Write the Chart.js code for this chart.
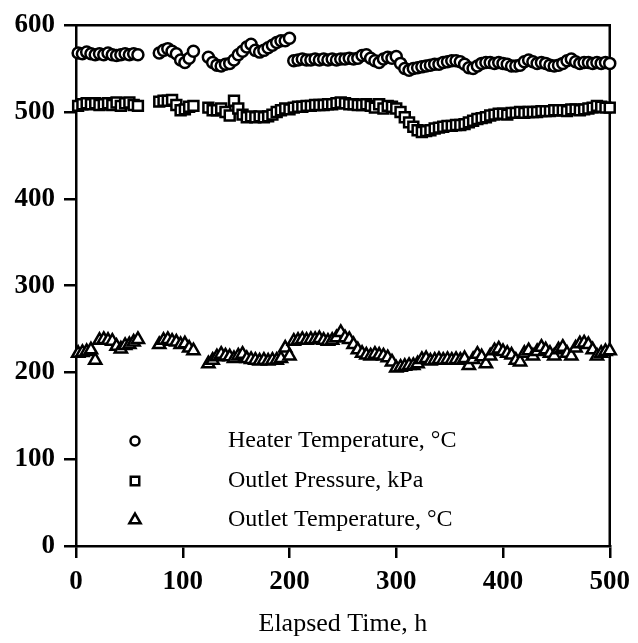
<!DOCTYPE html>
<html>
<head>
<meta charset="utf-8">
<script src="https://cdn.jsdelivr.net/npm/chart.js@4.4.1/dist/chart.umd.min.js"></script>
<style>
  html, body { margin: 0; padding: 0; background: #fff; }
  #wrap { width: 638px; height: 643px; }
</style>
</head>
<body>
<div id="wrap"><canvas id="chart" width="638" height="643"></canvas></div>
<script>
// elapsed time (h) for each logged reading
var hours = [2, 6, 10, 14, 18, 22, 26, 30, 34, 38, 42, 46, 50, 54, 58,
  78, 82, 86, 90, 94, 98, 102, 106, 110,
  124, 128, 132, 136, 140, 144, 148, 152, 156, 160, 164, 168, 172, 176, 180, 184, 188, 192, 196, 200,
  204, 208, 212, 216, 220, 224, 228, 232, 236, 240, 244, 248, 252, 256, 260, 264, 268, 272, 276, 280, 284, 288, 292, 296, 300,
  304, 308, 312, 316, 320, 324, 328, 332, 336, 340, 344, 348, 352, 356, 360, 364, 368, 372, 376, 380, 384, 388, 392, 396, 400,
  404, 408, 412, 416, 420, 424, 428, 432, 436, 440, 444, 448, 452, 456, 460, 464, 468, 472, 476, 480, 484, 488, 492, 496, 500];

var heaterTemp = [568, 567, 569, 567, 566, 567, 566, 568, 566, 565, 566, 567, 566, 567, 566,
  568, 571, 573, 570, 567, 560, 557, 562, 570,
  563, 557, 554, 553, 555, 556, 560, 566, 570, 575, 578, 571, 569, 571, 574, 577, 580, 582, 582, 585,
  559, 560, 561, 560, 560, 561, 560, 561, 560, 561, 560, 561, 561, 562, 561, 562, 565, 566, 562, 559, 557, 561, 563, 562, 564,
  556, 550, 548, 550, 551, 552, 553, 554, 555, 555, 557, 558, 559, 559, 558, 555, 551, 550, 553, 556, 557, 557, 556, 557, 556,
  555, 553, 553, 554, 558, 560, 558, 556, 557, 556, 554, 553, 554, 556, 559, 561, 558, 556, 557, 557, 556, 557, 556, 557, 556];

var outletPressure = [507, 509, 510, 509, 510, 508, 509, 510, 508, 511, 507, 510, 511, 508, 507,
  512, 513, 513, 514, 508, 502, 503, 506, 507,
  505, 502, 502, 504, 500, 496, 513, 504, 497, 494, 495, 494, 495, 494, 495, 497, 500, 502, 504, 503,
  505, 506, 506, 507, 507, 508, 508, 508, 509, 509, 510, 511, 510, 509, 509, 508, 508, 509, 507, 505, 509, 504, 507, 506, 504,
  500, 494, 488, 483, 479, 477, 478, 479, 481, 482, 483, 484, 484, 485, 485, 486, 488, 490, 492, 493, 494, 496, 497, 498, 498,
  497, 499, 499, 500, 499, 500, 500, 500, 501, 501, 501, 502, 502, 502, 501, 503, 503, 502, 503, 504, 505, 507, 506, 505, 505];

var outletTemp = [222, 223, 224, 226, 214, 237, 238, 237, 236, 230, 227, 231, 232, 235, 238,
  232, 237, 238, 236, 235, 232, 233, 228, 225,
  210, 214, 218, 221, 219, 218, 216, 219, 221, 216, 215, 214, 213, 214, 213, 214, 214, 216, 228, 219,
  236, 237, 238, 237, 238, 238, 239, 237, 236, 237, 240, 246, 240, 238, 232, 226, 222, 220, 219, 221, 220, 219, 217, 212, 205,
  206, 207, 208, 208, 210, 215, 216, 213, 214, 215, 214, 215, 214, 215, 214, 216, 208, 215, 221, 218, 210, 219, 225, 227, 224,
  222, 220, 214, 212, 222, 225, 219, 224, 229, 226, 222, 219, 226, 229, 222, 219, 228, 233, 234, 232, 226, 219, 222, 224, 225];

var seriesNames = ["Heater Temperature, \u00B0C", "Outlet Pressure, kPa", "Outlet Temperature, \u00B0C"];
var xTicks = [0, 100, 200, 300, 400, 500];
var yTicks = [0, 100, 200, 300, 400, 500, 600];

function pts(vals) {
  return hours.map(function (h, i) { return { x: h, y: vals[i] }; });
}

var serif = "'Liberation Serif', 'Times New Roman', serif";

// legend drawn inside the plot, lower left, like the original figure
const insideLegend = {
  id: "insideLegend",
  afterDraw(chart) {
    const c = chart.ctx;
    const sizes = [4.5, 6, 6.5];
    const rows = [441, 481, 520];
    c.save();
    c.fillStyle = "#fff";
    c.strokeStyle = "#000";
    c.lineWidth = 2.5;
    chart.data.datasets.forEach(function (ds, i) {
      Chart.helpers.drawPoint(c, {
        pointStyle: ds.pointStyle,
        radius: sizes[i],
        borderWidth: 2.5,
        rotation: 0
      }, 135, rows[i]);
    });
    c.fillStyle = "#000";
    c.font = "24px " + serif;
    c.textBaseline = "middle";
    c.textAlign = "left";
    chart.data.datasets.forEach(function (ds, i) {
      c.fillText(ds.label, 228, rows[i]);
    });
    c.restore();
  },
  beforeDatasetsDraw(chart) {
    // closing frame (top and right)
    const a = chart.chartArea;
    const c = chart.ctx;
    c.save();
    c.strokeStyle = "#000";
    c.lineWidth = 2.5;
    c.beginPath();
    c.moveTo(a.left, a.top);
    c.lineTo(a.right, a.top);
    c.lineTo(a.right, a.bottom);
    c.stroke();
    c.restore();
  }
};

const ctx = document.getElementById("chart");

function makeSet(label, vals, style, r) {
  return {
    label: label,
    data: pts(vals),
    pointStyle: style,
    pointRadius: r,
    pointHoverRadius: r,
    pointBorderWidth: 2.5,
    borderColor: "#000",
    backgroundColor: "#fff",
    showLine: false,
    clip: false
  };
}

const myChart = new Chart(ctx, {
  type: "scatter",
  data: {
    datasets: [
      makeSet(seriesNames[0], heaterTemp, "circle", 5.5),
      makeSet(seriesNames[1], outletPressure, "rect", 7),
      makeSet(seriesNames[2], outletTemp, "triangle", 7)
    ]
  },
  plugins: [insideLegend],
  options: {
    responsive: false,
    animation: false,
    events: [],
    layout: { padding: { left: 0, top: 15, right: 25, bottom: 0 } },
    plugins: {
      legend: { display: false },
      tooltip: { enabled: false }
    },
    scales: {
      x: {
        type: "linear",
        min: 0,
        max: 500,
        afterBuildTicks: function (s) { s.ticks = xTicks.map(function (v) { return { value: v }; }); },
        afterFit: function (s) { s.height = 97; },
        ticks: {
          color: "#000",
          padding: 8,
          maxRotation: 0,
          font: { family: serif, size: 27, weight: "bold" }
        },
        grid: { drawOnChartArea: false, drawTicks: true, tickLength: 12, color: "#000", lineWidth: 2.5 },
        border: { display: true, color: "#000", width: 2.5 },
        title: {
          display: true,
          text: "Elapsed Time, h",
          color: "#000",
          padding: { top: 0, bottom: 3 },
          font: { family: serif, size: 26 }
        }
      },
      y: {
        type: "linear",
        min: 0,
        max: 600,
        afterBuildTicks: function (s) { s.ticks = yTicks.map(function (v) { return { value: v }; }); },
        afterFit: function (s) { s.width = 76; },
        ticks: {
          color: "#000",
          padding: 9,
          font: { family: serif, size: 27, weight: "bold" }
        },
        grid: { drawOnChartArea: false, drawTicks: true, tickLength: 12, color: "#000", lineWidth: 2.5 },
        border: { display: true, color: "#000", width: 2.5 }
      }
    }
  }
});
</script>
</body>
</html>
